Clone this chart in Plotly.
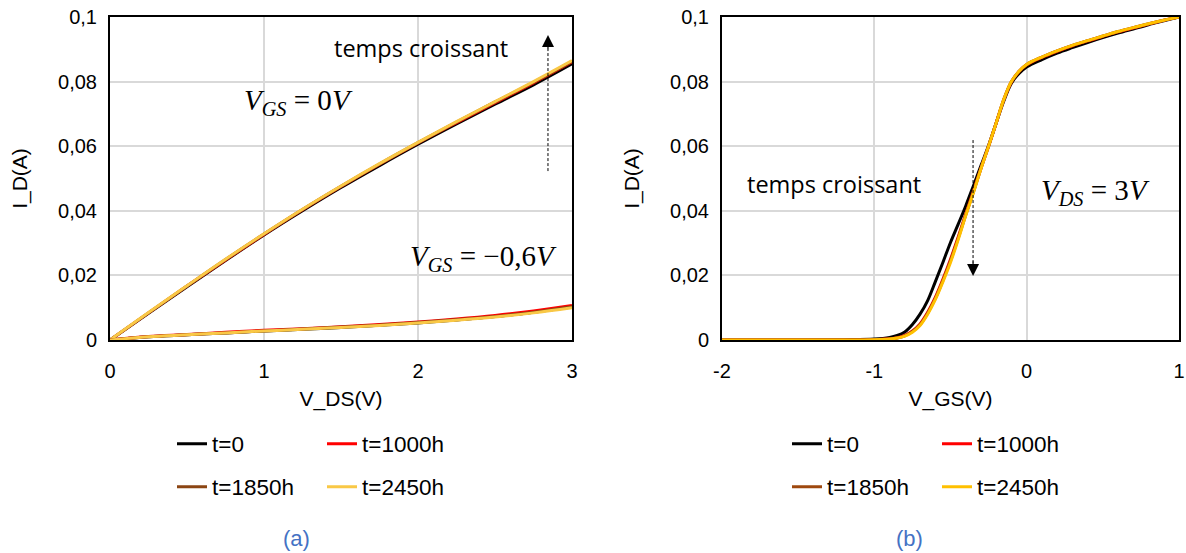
import plotly.graph_objects as go

# ---------------- data ----------------
series_names = ["t=0", "t=1000h", "t=1850h", "t=2450h"]
colors_a = ["#000000", "#FF0000", "#8B4513", "#F9C846"]
colors_b = ["#000000", "#FF0000", "#9E480E", "#FFC000"]

vds = [0, 0.25, 0.5, 0.75, 1.0, 1.25, 1.5, 1.75, 2.0, 2.25, 2.5, 2.75, 3.0]

id_vgs0_t0 = [0, 0.0083, 0.0165, 0.0246, 0.0325, 0.0400, 0.0472, 0.0540, 0.0606, 0.0669, 0.0730, 0.0790, 0.0855]
id_vgs0_t1000 = [0, 0.0084, 0.0167, 0.0248, 0.0327, 0.0403, 0.0475, 0.0544, 0.0610, 0.0673, 0.0735, 0.0796, 0.0861]
id_vgs0_t1850 = [0, 0.0084, 0.0167, 0.0249, 0.0328, 0.0404, 0.0476, 0.0545, 0.0611, 0.0675, 0.0737, 0.0798, 0.0863]
id_vgs0_t2450 = [0, 0.0085, 0.0168, 0.0250, 0.0329, 0.0405, 0.0477, 0.0546, 0.0612, 0.0676, 0.0738, 0.0800, 0.0865]

id_vgsm06_t0 = [0, 0.0010, 0.0016, 0.0022, 0.0028, 0.0033, 0.0039, 0.0046, 0.0053, 0.0062, 0.0073, 0.0086, 0.0102]
id_vgsm06_t1000 = [0, 0.0011, 0.0017, 0.0024, 0.0030, 0.0035, 0.0041, 0.0048, 0.0056, 0.0065, 0.0076, 0.0090, 0.0107]
id_vgsm06_t1850 = [0, 0.0010, 0.0016, 0.0022, 0.0028, 0.0034, 0.0040, 0.0046, 0.0054, 0.0063, 0.0073, 0.0086, 0.0103]
id_vgsm06_t2450 = [0, 0.0010, 0.0016, 0.0022, 0.0028, 0.0033, 0.0039, 0.0045, 0.0053, 0.0061, 0.0071, 0.0084, 0.0100]

vgs = [-2, -1.5, -1.2, -1.0, -0.9, -0.85, -0.8, -0.75, -0.7, -0.65, -0.6, -0.55, -0.5, -0.45, -0.4,
       -0.35, -0.3, -0.25, -0.2, -0.15, -0.1, -0.05, 0, 0.1, 0.2, 0.3, 0.4, 0.5, 0.6, 0.7, 0.8, 0.9, 1.0]

id_tr_t0 = [0, 0, 0.0001, 0.0003, 0.0008, 0.0014, 0.0025, 0.0048, 0.0080, 0.0122, 0.0180, 0.0240, 0.0302,
            0.0358, 0.0415, 0.0477, 0.0540, 0.0602, 0.0672, 0.0740, 0.0795, 0.0825, 0.0845, 0.0868, 0.0888,
            0.0905, 0.0921, 0.0936, 0.0950, 0.0963, 0.0976, 0.0988, 0.1000]
id_tr_t1000 = [0, 0, 0, 0.0001, 0.0004, 0.0007, 0.0014, 0.0028, 0.0050, 0.0086, 0.0132, 0.0188, 0.0250,
               0.0318, 0.0390, 0.0460, 0.0532, 0.0600, 0.0672, 0.0744, 0.0799, 0.0831, 0.0852, 0.0875, 0.0894,
               0.0911, 0.0926, 0.0940, 0.0954, 0.0966, 0.0978, 0.0990, 0.1000]
id_tr_t1850 = [0, 0, 0, 0.0001, 0.0003, 0.0006, 0.0013, 0.0026, 0.0047, 0.0083, 0.0128, 0.0184, 0.0245,
               0.0314, 0.0387, 0.0457, 0.0531, 0.0600, 0.0672, 0.0745, 0.0800, 0.0832, 0.0853, 0.0876, 0.0895,
               0.0912, 0.0927, 0.0941, 0.0955, 0.0967, 0.0979, 0.0990, 0.1000]
id_tr_t2450 = [0, 0, 0, 0.0001, 0.0003, 0.0006, 0.0012, 0.0024, 0.0045, 0.0080, 0.0125, 0.0180, 0.0240,
               0.0310, 0.0385, 0.0455, 0.0530, 0.0600, 0.0672, 0.0745, 0.0800, 0.0832, 0.0853, 0.0876, 0.0895,
               0.0912, 0.0927, 0.0941, 0.0955, 0.0967, 0.0979, 0.0990, 0.1000]

y_tickvals = [0, 0.02, 0.04, 0.06, 0.08, 0.1]
y_ticktext = ["0", "0,02", "0,04", "0,06", "0,08", "0,1"]
xa_tickvals = [0, 1, 2, 3]
xa_ticktext = ["0", "1", "2", "3"]
xb_tickvals = [-2, -1, 0, 1]
xb_ticktext = ["-2", "-1", "0", "1"]

# ---------------- figure ----------------
W, H = 1186, 553
fig = go.Figure()

vgs0 = [id_vgs0_t0, id_vgs0_t1000, id_vgs0_t1850, id_vgs0_t2450]
vgsm = [id_vgsm06_t0, id_vgsm06_t1000, id_vgsm06_t1850, id_vgsm06_t2450]
tr = [id_tr_t0, id_tr_t1000, id_tr_t1850, id_tr_t2450]
leg_a = ["legend", "legend", "legend2", "legend2"]
leg_b = ["legend3", "legend3", "legend4", "legend4"]

for i, name in enumerate(series_names):
    fig.add_trace(go.Scatter(x=vds, y=vgs0[i], mode="lines", name=name,
                             line=dict(color=colors_a[i], width=3, shape="spline"),
                             xaxis="x", yaxis="y", legend=leg_a[i], legendgroup="a" + name))
for i, name in enumerate(series_names):
    fig.add_trace(go.Scatter(x=vds, y=vgsm[i], mode="lines", name=name, showlegend=False,
                             line=dict(color=colors_a[i], width=3, shape="spline"),
                             xaxis="x", yaxis="y", legend=leg_a[i], legendgroup="a" + name))
for i, name in enumerate(series_names):
    fig.add_trace(go.Scatter(x=vgs, y=tr[i], mode="lines", name=name,
                             line=dict(color=colors_b[i], width=3, shape="spline"),
                             xaxis="x2", yaxis="y2", legend=leg_b[i], legendgroup="b" + name))

tick_font = dict(family="Liberation Sans, Arial", size=20, color="#000000")
title_font = dict(family="Liberation Sans, Arial", size=21, color="#000000")


def px_x(p):
    return p / W


def px_y(p):
    return 1 - p / H


axis_common = dict(showgrid=True, gridcolor="#D9D9D9", gridwidth=1.5, showline=True, linecolor="#000000",
                   linewidth=2, mirror=True, zeroline=False, ticks="", tickfont=tick_font)

fig.update_layout(
    width=W, height=H, margin=dict(l=0, r=0, t=0, b=0, autoexpand=False),
    paper_bgcolor="white", plot_bgcolor="white",
    xaxis=dict(domain=[px_x(110), px_x(572)], range=[0, 3], tickvals=xa_tickvals, ticktext=xa_ticktext,
               anchor="y", title=dict(text="V_DS(V)", font=title_font, standoff=10), ticklabelstandoff=12,
               **axis_common),
    yaxis=dict(domain=[px_y(340), px_y(17)], range=[0, 0.1], tickvals=y_tickvals, ticktext=y_ticktext, anchor="x",
               title=dict(text="I_D(A)", font=title_font, standoff=25), ticklabelstandoff=7, **axis_common),
    xaxis2=dict(domain=[px_x(722), px_x(1179)], range=[-2, 1], tickvals=xb_tickvals, ticktext=xb_ticktext,
                anchor="y2", title=dict(text="V_GS(V)", font=title_font, standoff=10), ticklabelstandoff=12,
                **axis_common),
    yaxis2=dict(domain=[px_y(340), px_y(17)], range=[0, 0.1], tickvals=y_tickvals, ticktext=y_ticktext, anchor="x2",
                title=dict(text="I_D(A)", font=title_font, standoff=25), ticklabelstandoff=7, **axis_common),
    showlegend=True,
)

leg_font = dict(family="Liberation Sans, Arial", size=22.5, color="#000000")
leg_common = dict(orientation="h", font=leg_font, bgcolor="rgba(0,0,0,0)", entrywidth=105,
                  xanchor="left", yanchor="middle", itemwidth=30, tracegroupgap=0)
fig.update_layout(
    legend=dict(x=px_x(172), y=px_y(444), **leg_common),
    legend2=dict(x=px_x(172), y=px_y(487), **leg_common),
    legend3=dict(x=px_x(787), y=px_y(444), **leg_common),
    legend4=dict(x=px_x(787), y=px_y(487), **leg_common),
)

# annotations
txt_font = dict(family="Open Sans, Lato", size=23.5, color="#000000")
math_font = dict(family="Liberation Serif, DejaVu Serif", size=29, color="#000000")
cap_font = dict(family="Liberation Sans, Arial", size=22, color="#4472C4")


def label(xp, yp, text, font):
    return dict(x=px_x(xp), y=px_y(yp), xref="paper", yref="paper", text=text, showarrow=False,
                font=font, xanchor="center", yanchor="middle")


anns = [
    label(421, 48, "temps croissant", txt_font),
    label(834, 184, "temps croissant", txt_font),
    label(298, 102, "<i>V</i><sub><i>GS</i></sub> = 0<i>V</i>", math_font),
    label(483, 258, "<i>V</i><sub><i>GS</i></sub> = \u22120,6<i>V</i>", math_font),
    label(1095, 192, "<i>V</i><sub><i>DS</i></sub> = 3<i>V</i>", math_font),
    label(296, 538, "(a)", cap_font),
    label(909, 538, "(b)", cap_font),
    # arrow heads
    dict(x=2.844, y=0.0944, xref="x", yref="y", ax=0, ay=16, text="",
         showarrow=True, arrowhead=2, arrowsize=2, arrowwidth=1.2, arrowcolor="#000000"),
    dict(x=-0.352, y=0.0198, xref="x2", yref="y2", ax=0, ay=-16, text="",
         showarrow=True, arrowhead=2, arrowsize=2, arrowwidth=1.2, arrowcolor="#000000"),
]
fig.update_layout(annotations=anns)

fig.add_shape(type="line", xref="x", yref="y", x0=2.844, x1=2.844, y0=0.0523, y1=0.090,
              line=dict(color="#000000", width=1, dash="3px,2px"))
fig.add_shape(type="line", xref="x2", yref="y2", x0=-0.352, x1=-0.352, y0=0.0619, y1=0.024,
              line=dict(color="#000000", width=1, dash="3px,2px"))

fig.write_html("out.html", config={"displayModeBar": False},
               post_script="document.body.style.margin='0';document.body.style.overflow='hidden';")
